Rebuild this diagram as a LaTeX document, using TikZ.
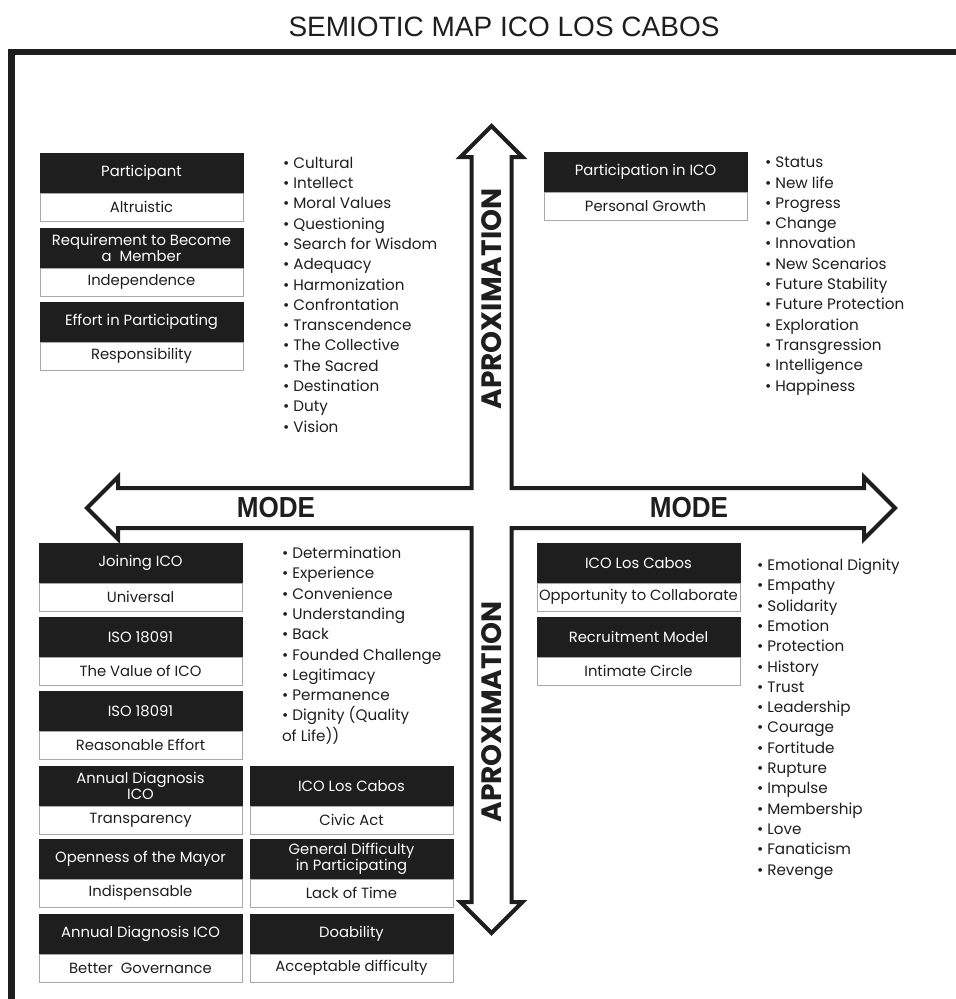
\documentclass[tikz,border=0pt]{standalone}
\usepackage{fontspec}
\setmainfont{Poppins}
\newfontfamily\titlefont{Liberation Sans}
\definecolor{ink}{HTML}{1E1E1E}
\definecolor{edge}{HTML}{A8A8A8}
\begin{document}
\begin{tikzpicture}[x=1pt,y=-1pt,
  head/.style={fill=ink, draw=ink, text=white, anchor=north west, minimum width=203pt,
    minimum height=40pt, inner sep=0pt, outer sep=0pt, align=center,
    font=\fontsize{14.8}{15.5}\selectfont},
  sub/.style={fill=white, draw=edge, line width=0.9pt, text=ink, anchor=north west,
    minimum width=203pt, minimum height=28pt, inner sep=0pt, outer sep=0pt,
    font=\fontsize{14.8}{15.5}\selectfont},
  blist/.style={anchor=north west, align=left, inner sep=0pt, outer sep=0pt, text=ink,
    font=\fontsize{15.2}{20.3}\selectfont},
  axis/.style={text=ink, font=\fontsize{28}{28}\selectfont\bfseries, inner sep=0pt},
  mode/.style={text=ink, font=\titlefont\fontsize{29}{29}\selectfont\bfseries, inner sep=0pt}
]
\useasboundingbox (0,0) rectangle (956,999);
% title
\node[text=ink, font=\titlefont\fontsize{28}{28}\selectfont, inner sep=0pt] (title) at (504,27) {SEMIOTIC MAP ICO LOS CABOS};
% frame (clipped at right and bottom)
\draw[ink, line width=6.5pt] (11.5,999) -- (11.5,52) -- (956,52);
% cross of arrows
\draw[ink, line width=4pt, line join=miter, fill=white]
  (491.5,126) -- (522.5,157) -- (511.5,157) -- (511.5,488) -- (864,488) -- (864,477)
  -- (895,508) -- (864,539) -- (864,528) -- (511.5,528) -- (511.5,902) -- (522.5,902)
  -- (491.5,933) -- (460.5,902) -- (471.5,902) -- (471.5,528) -- (118,528) -- (118,539)
  -- (87,508) -- (118,477) -- (118,488) -- (471.5,488) -- (471.5,157) -- (460.5,157) -- cycle;
\node[axis, rotate=90] (apU) at (491.5,299) {APROXIMATION};
\node[axis, rotate=90] (apD) at (491.5,712) {APROXIMATION};
\node[mode] (modeL) at (276,508) {\scalebox{0.9}[1]{MODE}};
\node[mode] (modeR) at (689,508) {\scalebox{0.9}[1]{MODE}};
% upper left
\node[head] (ul1) at (40,153) {Participant};
\node[sub] (ul1s) at (ul1.south west) {Altruistic};
\node[head] (ul2) at (40,228) {Requirement to Become\\a~~Member};
\node[sub] (ul2s) at (ul2.south west) {Independence};
\node[head] (ul3) at (40,302) {Effort in Participating};
\node[sub] (ul3s) at (ul3.south west) {Responsibility};
\node[blist] (ulb) at (283,157) {• Cultural\\• Intellect\\• Moral Values\\• Questioning\\• Search for Wisdom\\• Adequacy\\• Harmonization\\• Confrontation\\• Transcendence\\• The Collective\\• The Sacred\\• Destination\\• Duty\\• Vision};
% upper right
\node[head] (ur1) at (544,152) {Participation in ICO};
\node[sub] (ur1s) at (ur1.south west) {Personal Growth};
\node[blist] (urb) at (765,157) {• Status\\• New life\\• Progress\\• Change\\• Innovation\\• New Scenarios\\• Future Stability\\• Future Protection\\• Exploration\\• Transgression\\• Intelligence\\• Happiness};
% lower left
\node[head] (ll1) at (39,543) {Joining ICO};
\node[sub] (ll1s) at (ll1.south west) {Universal};
\node[head] (ll2) at (39,617) {ISO 18091};
\node[sub] (ll2s) at (ll2.south west) {The Value of ICO};
\node[head] (ll3) at (39,691) {ISO 18091};
\node[sub] (ll3s) at (ll3.south west) {Reasonable Effort};
\node[blist] (llb) at (282,547) {• Determination\\• Experience\\• Convenience\\• Understanding\\• Back\\• Founded Challenge\\• Legitimacy\\• Permanence\\• Dignity (Quality\\of Life))};
% bottom grid
\node[head] (b11) at (39,766) {Annual Diagnosis\\ICO};
\node[sub] (b11s) at (b11.south west) {Transparency};
\node[head] (b12) at (250,766) {ICO Los Cabos};
\node[sub] (b12s) at (b12.south west) {Civic Act};
\node[head] (b21) at (39,839) {Openness of the Mayor};
\node[sub] (b21s) at (b21.south west) {Indispensable};
\node[head] (b22) at (250,839) {General Difficulty\\in Participating};
\node[sub] (b22s) at (b22.south west) {Lack of Time};
\node[head] (b31) at (39,914) {Annual Diagnosis ICO};
\node[sub] (b31s) at (b31.south west) {Better~~Governance};
\node[head] (b32) at (250,914) {Doability};
\node[sub] (b32s) at (b32.south west) {Acceptable difficulty};
% lower right
\node[head] (lr1) at (537,543) {ICO Los Cabos};
\node[sub] (lr1s) at (lr1.south west) {Opportunity to Collaborate};
\node[head] (lr2) at (537,617) {Recruitment Model};
\node[sub] (lr2s) at (lr2.south west) {Intimate Circle};
\node[blist] (lrb) at (757,559) {• Emotional Dignity\\• Empathy\\• Solidarity\\• Emotion\\• Protection\\• History\\• Trust\\• Leadership\\• Courage\\• Fortitude\\• Rupture\\• Impulse\\• Membership\\• Love\\• Fanaticism\\• Revenge};
\end{tikzpicture}
\end{document}
